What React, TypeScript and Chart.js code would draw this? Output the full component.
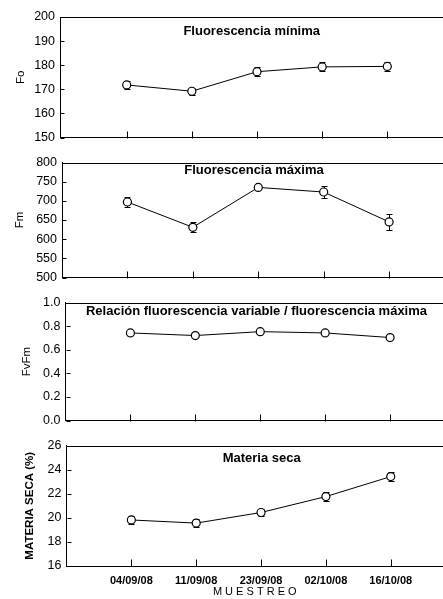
import React, { useEffect, useRef } from "react";
import { Chart, registerables } from "chart.js";
Chart.register(...registerables);

// ---- data ----
const categories = ["04/09/08", "11/09/08", "23/09/08", "02/10/08", "16/10/08"];
const foValues = [171.8, 169.2, 177.3, 179.3, 179.5];
const foErrors = [1.6, 1.5, 1.8, 1.9, 1.8];
const fmValues = [697, 631, 735, 723, 645];
const fmErrors = [13, 13, 5, 15, 21];
const fvfmValues = [0.742, 0.72, 0.753, 0.742, 0.703];
const fvfmErrors = [0.01, 0.01, 0.01, 0.01, 0.01];
const msValues = [19.82, 19.56, 20.44, 21.76, 23.42];
const msErrors = [0.3, 0.3, 0.3, 0.35, 0.35];

const panelTitles = [
  "Fluorescencia mínima",
  "Fluorescencia máxima",
  "Relación fluorescencia variable / fluorescencia máxima",
  "Materia seca",
];
const yTitles = ["Fo", "Fm", "FvFm", "MATERIA SECA (%)"];
const yMins = [150, 500, 0, 16];
const yMaxs = [200, 800, 1, 26];
const ySteps = [10, 50, 0.2, 2];
const yDecimals = [0, 0, 1, 0];
const xAxisTitle = "M U E S T R E O";

const FONT = "'Liberation Sans', Arial, Helvetica, sans-serif";

// ---- layout (page coordinates) ----
const panels = [
  { values: foValues, errors: foErrors, cTop: 0, cH: 150, top: 17, bottom: 141, left: 60, xMin: -0.024, xMax: 5.855, tx: 251.7, ty: 31.7, yTitlePad: 14, yTitleBold: false, last: false },
  { values: fmValues, errors: fmErrors, cTop: 150, cH: 140, top: 157, bottom: 282, left: 62, xMin: 0, xMax: 5.824, tx: 254, ty: 170.7, yTitlePad: 13, yTitleBold: false, last: false },
  { values: fvfmValues, errors: fvfmErrors, cTop: 290, cH: 143, top: 298, bottom: 424, left: 65.5, xMin: 0, xMax: 5.815, tx: 256.5, ty: 311.7, yTitlePad: 20, yTitleBold: false, last: false },
  { values: msValues, errors: msErrors, cTop: 433, cH: 166, top: 441, bottom: 566, left: 66.5, xMin: 0, xMax: 5.806, tx: 261.7, ty: 458, yTitlePad: 23, yTitleBold: true, last: true },
];

function makePlugin(idx: number) {
  const p = panels[idx];
  return {
    id: "frame" + idx,
    beforeDatasetsDraw(chart: any) {
      const ctx = chart.ctx;
      const xs = chart.scales.x;
      const ys = chart.scales.y;
      ctx.save();
      ctx.strokeStyle = "#000";
      ctx.lineWidth = 1;
      p.values.forEach((v: number, i: number) => {
        const px = Math.round(xs.getPixelForValue(i + 1)) + 0.5;
        const t = Math.round(ys.getPixelForValue(v + p.errors[i])) + 0.5;
        const b = Math.round(ys.getPixelForValue(v - p.errors[i])) + 0.5;
        ctx.beginPath();
        ctx.moveTo(px, t);
        ctx.lineTo(px, b);
        ctx.moveTo(px - 3, t);
        ctx.lineTo(px + 3, t);
        ctx.moveTo(px - 3, b);
        ctx.lineTo(px + 3, b);
        ctx.stroke();
      });
      ctx.restore();
    },
    afterDraw(chart: any) {
      const ctx = chart.ctx;
      const xs = chart.scales.x;
      const ys = chart.scales.y;
      const area = chart.chartArea;
      ctx.save();
      ctx.strokeStyle = "#000";
      ctx.lineWidth = 1;
      ctx.beginPath();
      const topY = Math.round(area.top) + 0.5;
      ctx.moveTo(area.left, topY);
      ctx.lineTo(area.right, topY);
      // inner x ticks
      const by = Math.round(area.bottom) + 0.5;
      categories.forEach((_, i) => {
        const px = Math.round(xs.getPixelForValue(i + 1)) + 0.5;
        ctx.moveTo(px, by);
        ctx.lineTo(px, by - 7);
      });
      // inner y ticks
      const lx = Math.round(area.left) + 0.5;
      ys.ticks.forEach((t: any) => {
        const py = Math.round(ys.getPixelForValue(t.value)) + 0.5;
        ctx.moveTo(lx, py);
        ctx.lineTo(lx + 4, py);
      });
      ctx.stroke();
      // panel title
      ctx.fillStyle = "#000";
      ctx.font = "bold 13px " + FONT;
      ctx.textAlign = "center";
      ctx.textBaseline = "middle";
      ctx.fillText(panelTitles[idx], p.tx, p.ty - p.cTop);
      ctx.restore();
    },
  };
}

function Panel({ idx }: { idx: number }) {
  const ref = useRef<HTMLCanvasElement | null>(null);
  const p = panels[idx];
  useEffect(() => {
    if (!ref.current) return;
    const chart = new Chart(ref.current, {
      type: "line",
      data: {
        datasets: [
          {
            data: p.values.map((v, i) => ({ x: i + 1, y: v })),
            borderColor: "#000",
            borderWidth: 1,
            pointRadius: 4,
            pointBorderWidth: 1.2,
            pointBackgroundColor: "#fff",
            pointBorderColor: "#000",
            tension: 0,
            clip: false,
          },
        ],
      },
      options: {
        animation: false,
        responsive: false,
        devicePixelRatio: 1,
        layout: { autoPadding: false, padding: { top: p.top - p.cTop, left: 0, right: 0, bottom: 0 } },
        plugins: { legend: { display: false }, tooltip: { enabled: false }, title: { display: false } },
        scales: {
          x: {
            type: "linear",
            min: p.xMin,
            max: p.xMax,
            grid: { display: false, drawTicks: false },
            border: { display: true, color: "#000", width: 1 },
            afterBuildTicks: (scale: any) => {
              scale.ticks = categories.map((_, i) => ({ value: i + 1 }));
            },
            afterFit: (scale: any) => {
              scale.height = p.cTop + p.cH - p.bottom;
            },
            ticks: {
              display: p.last,
              autoSkip: false,
              maxRotation: 0,
              padding: 8,
              color: "#000",
              font: { family: FONT, size: 11, weight: "bold" },
              callback: (value: any) => categories[Math.round(value) - 1] ?? "",
            },
            title: {
              display: p.last,
              text: xAxisTitle,
              color: "#000",
              font: { family: FONT, size: 11 },
              padding: { top: 0, bottom: 0 },
            },
          },
          y: {
            type: "linear",
            min: yMins[idx],
            max: yMaxs[idx],
            grid: { display: false, drawTicks: false },
            border: { display: true, color: "#000", width: 1 },
            afterFit: (scale: any) => {
              scale.width = p.left;
            },
            ticks: {
              stepSize: ySteps[idx],
              padding: 5,
              color: "#000",
              font: { family: FONT, size: 12.5 },
              callback: (value: any) => Number(value).toFixed(yDecimals[idx]),
            },
            title: {
              display: true,
              text: yTitles[idx],
              color: "#000",
              font: { family: FONT, size: 11.5, weight: p.yTitleBold ? "bold" : "normal" },
              padding: { top: p.yTitlePad, bottom: 0 },
            },
          },
        },
      },
      plugins: [makePlugin(idx)],
    } as any);
    return () => chart.destroy();
  }, []);
  return (
    <div style={{ position: "absolute", left: 0, top: p.cTop, width: 443, height: p.cH }}>
      <canvas ref={ref} width={443} height={p.cH} style={{ display: "block" }} />
    </div>
  );
}

export default function App() {
  return (
    <div style={{ position: "absolute", left: 0, top: 0, width: 443, height: 599, background: "#fff", overflow: "hidden" }}>
      {panels.map((_, i) => (
        <Panel key={i} idx={i} />
      ))}
    </div>
  );
}
